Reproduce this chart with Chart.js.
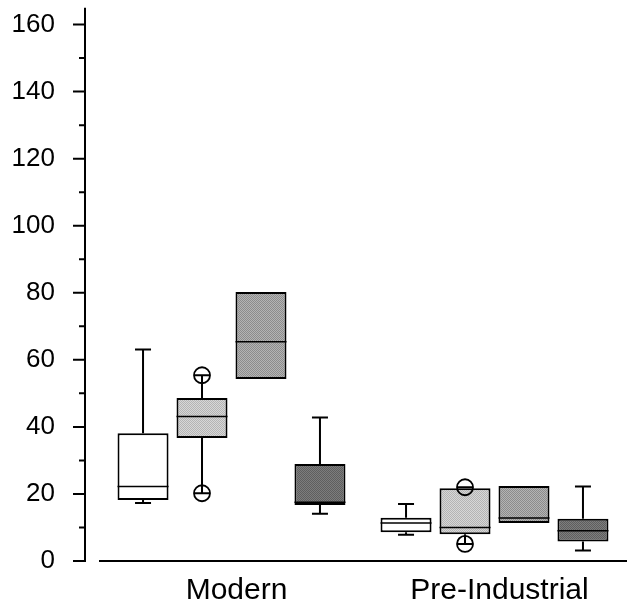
<!DOCTYPE html>
<html>
<head>
<meta charset="utf-8">
<script src="https://cdn.jsdelivr.net/npm/chart.js@4/dist/chart.umd.min.js"></script>
<style>
  html, body { margin: 0; padding: 0; background: #fff; }
  #wrap { width: 638px; height: 614px; }
</style>
</head>
<body>
<div id="wrap"><canvas id="myChart"></canvas></div>
<script>
// groups on the x axis
const groups = ['Modern', 'Pre-Industrial'];
const yTicks = [0, 20, 40, 60, 80, 100, 120, 140, 160];

// one row per box series, one value per group
const q1 = [[18.2, 8.6], [36.7, 8.0], [54.3, 11.3], [16.7, 5.8]];
const medians = [[22.2, 11.3], [43.1, 10.0], [65.4, 12.8], [17.5, 9.0]];
const q3 = [[38.1, 12.9], [48.6, 21.7], [80.2, 22.4], [28.9, 12.6]];
const whiskerLow = [[17.3, 7.8], [20.2, 5.1], [null, null], [14.1, 3.1]];
const whiskerHigh = [[63.1, 17.0], [55.4, 22.0], [null, null], [42.8, 22.2]];
const outliers = [[[], []], [[55.4, 20.2], [22.0, 5.1]], [[], []], [[], []]];

const shades = [[255, 255], [215, 180], [180, 140], [125, 95]];

// small stipple tiles so the boxes look like the screened originals
function stipple(a, b) {
    const c = document.createElement('canvas');
    c.width = 2; c.height = 2;
    const g = c.getContext('2d');
    g.fillStyle = 'rgb(' + a + ',' + a + ',' + a + ')';
    g.fillRect(0, 0, 2, 2);
    g.fillStyle = 'rgb(' + b + ',' + b + ',' + b + ')';
    g.fillRect(0, 0, 1, 1);
    g.fillRect(1, 1, 1, 1);
    return g.createPattern(c, 'repeat');
}

// medians, whiskers and outlier circles on top of the floating bars
const boxExtras = {
    id: 'boxExtras',
    afterDatasetsDraw(chart) {
        const ctx = chart.ctx;
        const y = chart.scales.y;
        ctx.save();
        ctx.strokeStyle = '#000';
        chart.data.datasets.forEach((ds, i) => {
            const meta = chart.getDatasetMeta(i);
            meta.data.forEach((bar, j) => {
                const cx = bar.x;
                const half = bar.width / 2;
                const top = y.getPixelForValue(q3[i][j]);
                const bot = y.getPixelForValue(q1[i][j]);
                // median
                ctx.lineWidth = 1.5;
                ctx.beginPath();
                const my = y.getPixelForValue(medians[i][j]);
                ctx.moveTo(cx - half, my);
                ctx.lineTo(cx + half, my);
                ctx.stroke();
                // whiskers
                ctx.lineWidth = 2;
                [[whiskerHigh[i][j], top], [whiskerLow[i][j], bot]].forEach(([v, edge]) => {
                    if (v === null) return;
                    const wy = y.getPixelForValue(v);
                    ctx.beginPath();
                    ctx.moveTo(cx, edge);
                    ctx.lineTo(cx, wy);
                    ctx.moveTo(cx - 8, wy);
                    ctx.lineTo(cx + 8, wy);
                    ctx.stroke();
                });
                // outliers
                ctx.lineWidth = 1.8;
                outliers[i][j].forEach(v => {
                    ctx.beginPath();
                    ctx.arc(cx, y.getPixelForValue(v), 8, 0, Math.PI * 2);
                    ctx.stroke();
                });
            });
        });
        ctx.restore();
    }
};

// y axis drawn a little left of the plot, with minor ticks
const offsetAxis = {
    id: 'offsetAxis',
    afterDraw(chart) {
        const ctx = chart.ctx;
        const y = chart.scales.y;
        const ax = chart.chartArea.left - 15;
        ctx.save();
        ctx.strokeStyle = '#000';
        ctx.lineWidth = 2;
        ctx.beginPath();
        ctx.moveTo(ax, y.top);
        ctx.lineTo(ax, y.bottom + 1);
        yTicks.forEach(v => {
            const py = y.getPixelForValue(v);
            ctx.moveTo(ax - 12, py);
            ctx.lineTo(ax, py);
            if (v + 10 <= y.max) {
                const pm = y.getPixelForValue(v + 10);
                ctx.moveTo(ax - 6, pm);
                ctx.lineTo(ax, pm);
            }
        });
        ctx.stroke();
        ctx.restore();
    }
};

const datasets = shades.map((s, i) => ({
    label: 'series ' + (i + 1),
    data: groups.map((g, j) => [q1[i][j], q3[i][j]]),
    backgroundColor: stipple(s[0], s[1]),
    borderColor: '#000',
    borderWidth: 2,
    borderSkipped: false,
    categoryPercentage: 0.897,
    barPercentage: 0.865
}));

new Chart(document.getElementById('myChart').getContext('2d'), {
    type: 'bar',
    data: { labels: groups, datasets: datasets },
    options: {
        responsive: true,
        maintainAspectRatio: false,
        animation: false,
        layout: { padding: { left: 0, right: 12, top: 0, bottom: 0 } },
        plugins: { legend: { display: false }, tooltip: { enabled: false } },
        scales: {
            x: {
                grid: { display: false, drawTicks: false },
                border: { display: true, color: '#000', width: 2 },
                ticks: {
                    color: '#000',
                    padding: 12,
                    labelOffset: 5,
                    font: { family: 'Liberation Sans', size: 30 }
                },
                afterFit: s => { s.height = 53; }
            },
            y: {
                min: 0,
                max: 165,
                grid: {
                    display: true,
                    drawOnChartArea: false,
                    drawTicks: true,
                    tickLength: 45,
                    color: 'rgba(0,0,0,0)'
                },
                border: { display: false },
                afterBuildTicks: s => { s.ticks = yTicks.map(v => ({ value: v })); },
                ticks: {
                    color: '#000',
                    padding: 0,
                    font: { family: 'Liberation Sans', size: 26, lineHeight: 0.6 }
                },
                afterFit: s => { s.width = 100; }
            }
        }
    },
    plugins: [boxExtras, offsetAxis]
});
</script>
</body>
</html>
